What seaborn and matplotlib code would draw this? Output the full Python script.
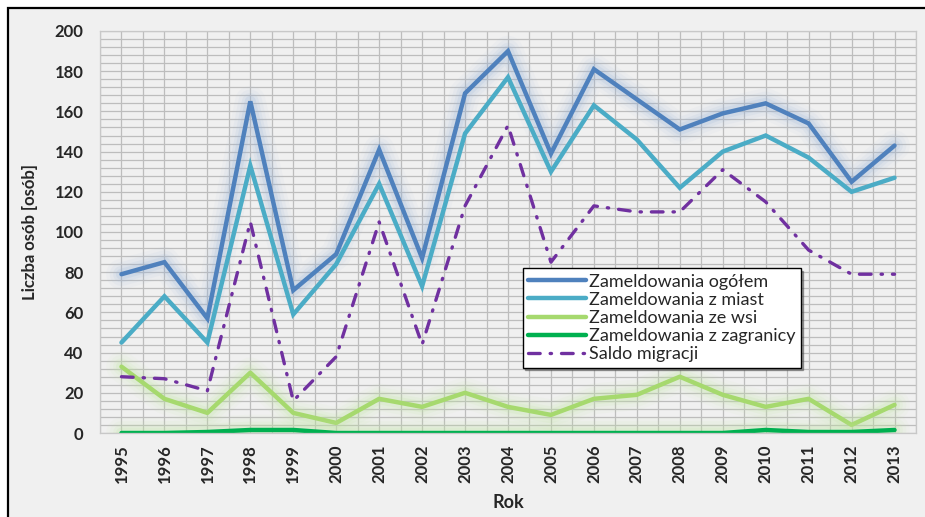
import numpy as np
import pandas as pd
import matplotlib
matplotlib.use("Agg")
import matplotlib.pyplot as plt
import matplotlib.patheffects as pe
from matplotlib.patches import Rectangle
from matplotlib.ticker import MultipleLocator
import seaborn as sns

# dane
lata = [str(r) for r in range(1995, 2014)]
ogolem = [79, 85, 57, 165, 71, 89, 141, 87, 169, 190, 139, 181, 166, 151, 159, 164, 154, 125, 143]
z_miast = [45, 68, 45, 133, 59, 84, 124, 73, 149, 177, 130, 163, 146, 122, 140, 148, 137, 120, 127]
ze_wsi = [33, 17, 10, 30, 10, 5, 17, 13, 20, 13, 9, 17, 19, 28, 19, 13, 17, 4, 14]
z_zagranicy = [0, 0, 0.5, 1.5, 1.5, 0, 0, 0, 0, 0, 0, 0, 0, 0, 0, 1.5, 0.5, 0.5, 1.5]
saldo = [28, 27, 21, 105, 16, 38, 105, 44, 113, 153, 85, 113, 110, 110, 131, 115, 91, 79, 79]

df = pd.DataFrame({
    "poz": np.arange(len(lata)),
    "ogolem": ogolem,
    "miast": z_miast,
    "wsi": ze_wsi,
    "zagr": z_zagranicy,
    "saldo": saldo,
})

sns.set_theme(style="whitegrid")
plt.rcParams["font.family"] = ["Lato", "DejaVu Sans"]

fig = plt.figure(figsize=(9.25, 5.17), dpi=100, facecolor="white")
# ramka wykresu (jak w Excelu)
fig.patches.append(Rectangle((8 / 925, -0.1), 1.2, 1 - 8 / 517 + 0.1,
                             transform=fig.transFigure, facecolor="#F0F0F0",
                             edgecolor="black", lw=1.6, zorder=-10))

ax = fig.add_axes([100 / 925, 1 - 433 / 517, 816 / 925, 402 / 517])
ax.set_facecolor("#F0F0F0")


def glow(kolor):
    # miekka poswiata wokol linii
    return [pe.Stroke(linewidth=w, foreground=kolor, alpha=a,
                      joinstyle="round", capstyle="round")
            for w, a in [(22, 0.06), (17, 0.08), (12, 0.12), (8, 0.18)]] + [pe.Normal()]


sns.lineplot(data=df, x="poz", y="ogolem", ax=ax, color="#4F81BD", lw=3.2,
             label="Zameldowania ogółem", path_effects=glow("#9DB6DA"),
             solid_joinstyle="miter")
sns.lineplot(data=df, x="poz", y="miast", ax=ax, color="#4BACC6", lw=3.2,
             label="Zameldowania z miast", solid_joinstyle="miter")
sns.lineplot(data=df, x="poz", y="wsi", ax=ax, color="#A6D96E", lw=3.2,
             label="Zameldowania ze wsi", path_effects=glow("#C2E6A4"))
sns.lineplot(data=df, x="poz", y="zagr", ax=ax, color="#00B050", lw=3.2,
             label="Zameldowania z zagranicy", path_effects=glow("#C2E6A4"))
sns.lineplot(data=df, x="poz", y="saldo", ax=ax, color="#7030A0", lw=2.4,
             label="Saldo migracji", dashes=False)
ax.lines[-1].set_linestyle((0, (3.5, 3, 0.4, 3)))
ax.lines[-1].set_dash_capstyle("round")

ax.set_xlim(-0.5, len(lata) - 0.5)
ax.set_ylim(0, 200)
ax.xaxis.set_major_locator(MultipleLocator(1))
ax.xaxis.set_minor_locator(MultipleLocator(0.5))
ax.yaxis.set_major_locator(MultipleLocator(20))
ax.yaxis.set_minor_locator(MultipleLocator(4))
ax.set_xticks(df["poz"])
ax.set_xticklabels(lata, rotation=90, fontsize=12, fontweight="bold")
for t in ax.get_yticklabels():
    t.set_fontweight("bold")
    t.set_fontsize(12)
ax.grid(True, which="both", color="#BDBDBD", lw=0.9)
ax.tick_params(axis="both", which="both", length=0)
ax.tick_params(axis="y", pad=12)
ax.tick_params(axis="x", pad=8)
for s in ax.spines.values():
    s.set_color("#C8C8C8")
    s.set_linewidth(0.9)

ax.set_xlabel("Rok", fontsize=13, fontweight="bold", labelpad=8)
ax.set_ylabel("Liczba osób [osób]", fontsize=12, fontweight="bold", labelpad=12)

leg = ax.legend(loc="upper left", bbox_to_anchor=(0.518, 0.41), borderaxespad=0,
                fontsize=13, frameon=True, fancybox=False, shadow=True,
                edgecolor="black", facecolor="white", framealpha=1,
                handlelength=3.2, handletextpad=0.15, labelspacing=0.12,
                borderpad=0.3)
leg.get_frame().set_linewidth(1.0)
for h in leg.get_lines():
    h.set_path_effects([])

fig.savefig("out.png", dpi=100, facecolor=fig.get_facecolor())
